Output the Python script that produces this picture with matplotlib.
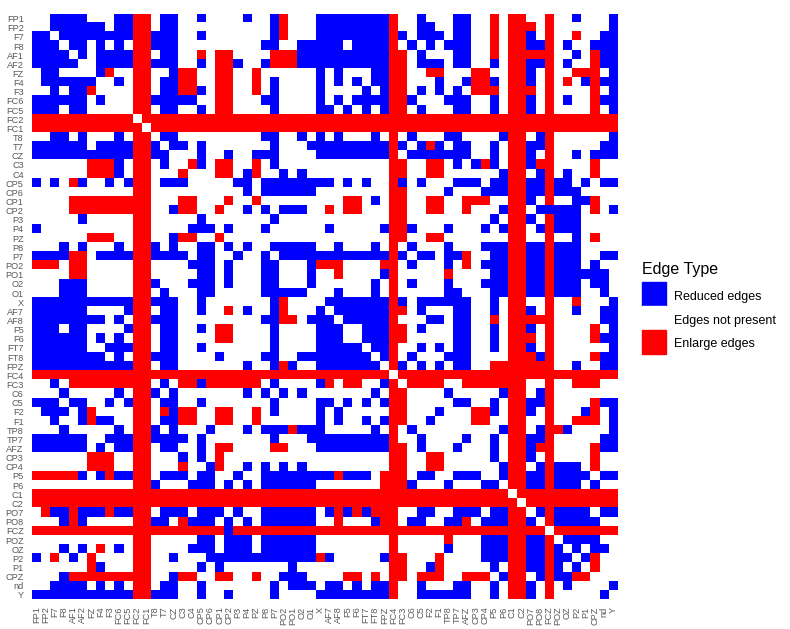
import numpy as np
import matplotlib
matplotlib.use('Agg')
import matplotlib.pyplot as plt
from matplotlib.colors import ListedColormap
from matplotlib.patches import Patch

plt.rcParams['font.family'] = ['Liberation Sans', 'DejaVu Sans']

channels = ['FP1', 'FP2', 'F7', 'F8', 'AF1', 'AF2', 'FZ', 'F4', 'F3', 'FC6', 'FC5', 'FC2', 'FC1',
            'T8', 'T7', 'CZ', 'C3', 'C4', 'CP5', 'CP6', 'CP1', 'CP2', 'P3', 'P4', 'PZ', 'P8', 'P7',
            'PO2', 'PO1', 'O2', 'O1', 'X', 'AF7', 'AF8', 'F5', 'F6', 'FT7', 'FT8', 'FPZ', 'FC4', 'FC3',
            'C6', 'C5', 'F2', 'F1', 'TP8', 'TP7', 'AFZ', 'CP3', 'CP4', 'P5', 'P6', 'C1', 'C2',
            'PO7', 'PO8', 'FCZ', 'POZ', 'OZ', 'P2', 'P1', 'CPZ', 'nd', 'Y']

# upper triangle, one entry per row: column index ranges
reduced = [
    '2-5 9-10 14-15 18 23 26 31-38 42 46-47 59 63',
    '2-7 9-10 14-15 26 31-38 42-43 46-47 63',
    '3-10 13-15 18 26 31-38 40 42-44 46-47 54 62-63',
    '4-5 7 9 13-15 25-26 29-33 35-38 41 43 45-47 54-55 58 61-63',
    '5 7-10 14-15 29-38 42 46-47 59 62-63',
    '7-10 13-15 18 22 25 29-38 42-44 46-47 50 54-55 58 62-63',
    '7 15 31 33 37-38 54 63',
    '9 14-15 26 31 33 35 37-38 44 47 50 54 60 62-63',
    '14-15 18 26 31 36 38 42 44 46 63',
    '13-17 25-26 31 33 35-38 41 45-47 50 54 58 62-63',
    '14-15 18 26 31-32 34 36 38 42 46-47 50 54 63',
    '',
    '',
    '14-15 25-26 29 31 33 37 41 45-46 51 55 63',
    '15-16 18 26 30-38 40 42 44 46-47 50 54-55 62-63',
    '18 21 24-26 31-38 41-47 50 54 59 61-63',
    '18 26 46 48 50 54',
    '23 27 29 51 55 58',
    '22-23 25-32 34 36 40 42 46-48 50-51 54-55 57-58 60 62-63',
    '23 25-30 45 49-51 54-55 57-59',
    '37 54 59-60',
    '23 25 27-29 51 55-59 63',
    '26 50 54 57-59',
    '25 32 38 41 45 49 51 55 57-59',
    '59',
    '26-30 33 37 41 45 49-51 54-55 57-59',
    '27-38 40 42-43 45-46 50-51 54-55 57-59 62-63',
    '30 41 45 49-51 54-55 57-59 61',
    '30 38 50-51 54-55 57-62',
    '30 37 41 45 49-51 54-55 57-59 61-62',
    '33 37 45-46 50-51 54-55 57-59 62',
    '32-38 40 42-47 50 63',
    '33-38 42 46-47 50 54 59 62-63',
    '34-38 43-44 46-47 62-63',
    '36-38 42 46-47 50 54 63',
    '36-38 46-47 50 62-63',
    '37-38 42 44 46-47 50 54 63',
    '38 41 45-47 55 62-63',
    '40 42 44 46-47 59 62-63',
    '',
    '',
    '45 51 55',
    '46-47 50 54-55 62-63',
    '44 50 54 60 63',
    '63',
    '51 55 58 63',
    '47 50 54-55 62-63',
    '50 54 62-63',
    '50 54',
    '51 55 57-59',
    '51 54-55 57-60 62-63',
    '54-55 57-59 61',
    '',
    '',
    '55 57-60 62-63',
    '57-61',
    '',
    '58-61',
    '59 61-62',
    '60',
    '',
    '',
    '63',
    '',
]

enlarged = [
    '11-12 27 39 50 52-53 56',
    '11-12 27 39 50 52-54 56',
    '11-12 27 39 50 52-53 56 59',
    '11-12 39 50 52-53 56',
    '11-12 18 20-21 26-28 39-40 50 52-56 61',
    '11-12 20-21 26-28 39-40 52-53 56 61',
    '8 11-12 16-17 20-21 24 39-40 43-44 48-49 52-53 56 59-61',
    '11-12 16-17 20-21 24 39-40 48-49 52-53 56 58 61',
    '11-12 16-17 20-21 24 39-40 48-50 52-54 56 61',
    '11-12 20-21 39-40 52-53 56 61',
    '11-12 20-21 39-40 52-53 56 61',
    '12-63',
    '13-63',
    '39 52-53 56',
    '39 43 52-53 56',
    '39 52-53 56',
    '17 20-21 24 39-40 43-44 49 52-53 55-56 61',
    '20-21 24 39-40 43-44 52-53 56 61',
    '39 52-53 56',
    '39-40 52-53 56',
    '21 24 34-35 39-40 43-44 47-49 52-53 56 61',
    '32 34-35 39-40 43-44 47 52-53 61',
    '39-40 52-53 56',
    '39-40 52-53 56',
    '39-40 43-44 52-53 56 61',
    '39 52-53 56',
    '39 47 52-53 56',
    '31-33 38-39 47 52-53 56',
    '33 39 45 52-53 56',
    '39 52-53 56',
    '39 52-53 56',
    '39 52-53 56 59',
    '39-40 52-53 56',
    '39 50 52-56',
    '39-40 52-53 56 61',
    '39-40 52-54 56 61',
    '39 52-53 56',
    '39 52-54 56 61',
    '39 50-56',
    '40-63',
    '41-44 47-53 56 59-61',
    '52-53 56',
    '52-53 56 61',
    '48-49 52-53 56 61',
    '48-49 52-53 56 59-61',
    '52-53 56-57',
    '52-53 56',
    '52-53 55-56 61',
    '52-53 56 61',
    '52-53 56 61',
    '52-53 56',
    '52-53 56',
    '53-63',
    '54-63',
    '56',
    '56',
    '57-63',
    '',
    '',
    '61',
    '61',
    '',
    '',
    '',
]


def parse_cols(text):
    cols = []
    for part in text.split():
        if '-' in part:
            a, b = part.split('-')
            cols.extend(range(int(a), int(b) + 1))
        else:
            cols.append(int(part))
    return cols


n = len(channels)
edges = np.zeros((n, n))
for i in range(n):
    for j in parse_cols(reduced[i]):
        edges[i, j] = edges[j, i] = -1
    for j in parse_cols(enlarged[i]):
        edges[i, j] = edges[j, i] = 1

W, H = 790, 629
fig = plt.figure(figsize=(W / 100, H / 100), dpi=100)
ax = fig.add_axes([32 / W, 1 - 599.5 / H, 585.7 / W, 585.5 / H])

cmap = ListedColormap(['#0000FF', '#FFFFFF', '#FF0000'])
ax.imshow(edges, cmap=cmap, vmin=-1, vmax=1, aspect='auto', interpolation='nearest')

ax.set_xticks(range(n))
ax.set_yticks(range(n))
ax.set_xticklabels(channels, rotation=90, fontsize=6.6, color='#595959')
ax.set_yticklabels(channels, fontsize=6.6, color='#595959')
ax.tick_params(axis='y', length=0, pad=6)
ax.tick_params(axis='x', length=0, pad=5)
for s in ax.spines.values():
    s.set_visible(False)

handles = [Patch(color='#0000FF', label='Reduced edges'),
           Patch(color='#FFFFFF', label='Edges not present'),
           Patch(color='#FF0000', label='Enlarge edges')]
leg = fig.legend(handles=handles, title='Edge Type', loc='upper left',
                 bbox_to_anchor=(642 / W, 1 - 262 / H), frameon=False, fontsize=9.0,
                 title_fontsize=11.5, handlelength=1.92, handleheight=2.56,
                 handletextpad=0.64, labelspacing=0.0, borderpad=0, borderaxespad=0)
leg._legend_box.align = 'left'
leg._legend_box.sep = 3.6
# labels sit a bit lower than the baseline alignment gives
for t in leg.get_texts():
    t.set_position((0, -2))

fig.savefig('out.png', dpi=100)
